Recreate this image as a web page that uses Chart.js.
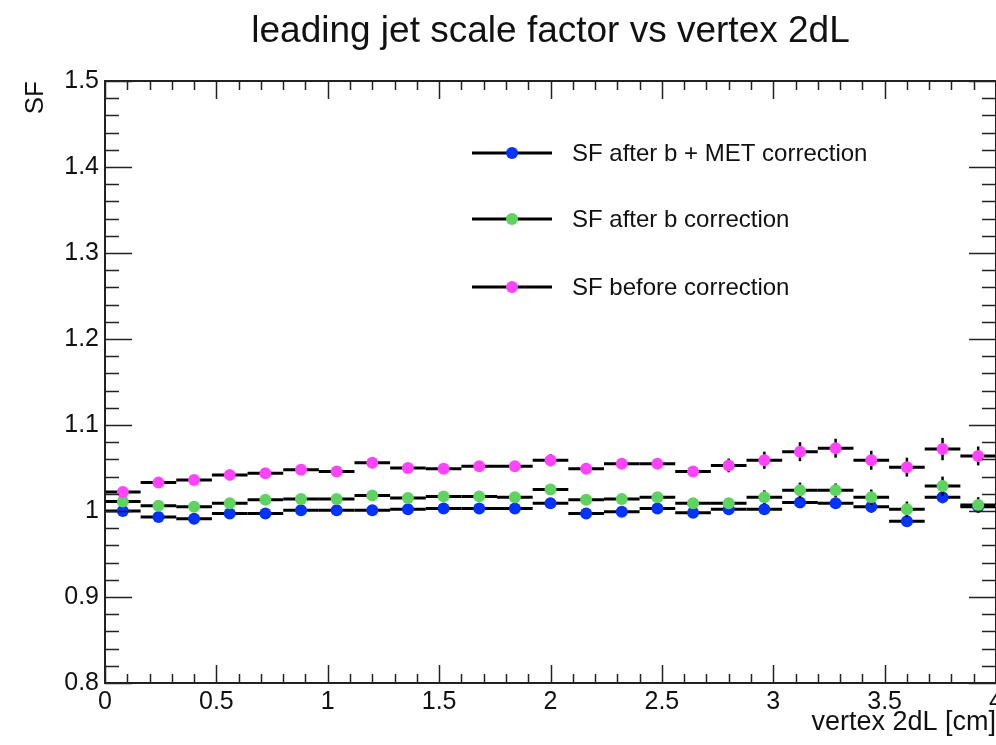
<!DOCTYPE html>
<html>
<head>
<meta charset="utf-8">
<title>leading jet scale factor vs vertex 2dL</title>
<script src="https://cdn.jsdelivr.net/npm/chart.js@4"></script>
<style>
  html, body { margin: 0; padding: 0; background: #fff; overflow: hidden; }
  #wrap { width: 996px; height: 745px; }
</style>
</head>
<body>
<div id="wrap"><canvas id="sf-chart" width="996" height="745"></canvas></div>
<script>
// bins of vertex 2dL [cm], 0.16 wide
const binCenters = [0.08, 0.24, 0.40, 0.56, 0.72, 0.88, 1.04, 1.20, 1.36, 1.52, 1.68, 1.84, 2.00,
                    2.16, 2.32, 2.48, 2.64, 2.80, 2.96, 3.12, 3.28, 3.44, 3.60, 3.76, 3.92];
const binHalfWidth = 0.08;

const sfBMet   = [1.000, 0.993, 0.991, 0.997, 0.997, 1.001, 1.001, 1.001, 1.002, 1.003, 1.003, 1.003, 1.009,
                  0.997, 0.999, 1.003, 0.998, 1.002, 1.002, 1.010, 1.009, 1.005, 0.988, 1.016, 1.005];
const sfB      = [1.011, 1.006, 1.005, 1.009, 1.013, 1.014, 1.014, 1.018, 1.015, 1.017, 1.017, 1.016, 1.025,
                  1.013, 1.014, 1.016, 1.009, 1.009, 1.016, 1.024, 1.024, 1.016, 1.002, 1.029, 1.007];
const sfBefore = [1.022, 1.033, 1.036, 1.042, 1.044, 1.048, 1.046, 1.056, 1.050, 1.049, 1.052, 1.052, 1.059,
                  1.049, 1.055, 1.055, 1.046, 1.053, 1.059, 1.069, 1.073, 1.059, 1.051, 1.072, 1.064];

const errBMet   = [0.003, 0.003, 0.003, 0.003, 0.004, 0.004, 0.004, 0.004, 0.004, 0.004, 0.004, 0.005, 0.005,
                   0.005, 0.005, 0.005, 0.005, 0.005, 0.006, 0.006, 0.006, 0.007, 0.006, 0.007, 0.006];
const errB      = [0.004, 0.004, 0.004, 0.004, 0.004, 0.004, 0.004, 0.005, 0.005, 0.005, 0.005, 0.005, 0.006,
                   0.005, 0.006, 0.006, 0.006, 0.006, 0.008, 0.009, 0.008, 0.009, 0.009, 0.011, 0.009];
const errBefore = [0.004, 0.004, 0.004, 0.004, 0.004, 0.004, 0.005, 0.005, 0.005, 0.005, 0.005, 0.005, 0.007,
                   0.006, 0.006, 0.006, 0.006, 0.008, 0.010, 0.011, 0.011, 0.011, 0.011, 0.013, 0.011];

const seriesNames  = ['SF after b + MET correction', 'SF after b correction', 'SF before correction'];
const seriesColors = ['#0033ff', '#5fd35f', '#ff44ff'];

const xTickLabels = [0, 0.5, 1, 1.5, 2, 2.5, 3, 3.5, 4];
const yTickLabels = [0.8, 0.9, 1, 1.1, 1.2, 1.3, 1.4, 1.5];

const FONT = "'Liberation Sans', Arial, Helvetica, sans-serif";
Chart.defaults.font.family = FONT;
Chart.defaults.color = '#111';

const MARK_R = 6;

function mkSet(i, vals, errs){
  return {
    label: seriesNames[i],
    data: binCenters.map((x, k) => ({ x, y: vals[k] })),
    errs,
    showLine: false,
    pointRadius: MARK_R,
    pointHoverRadius: MARK_R,
    pointBorderWidth: 0,
    pointBackgroundColor: seriesColors[i],
    pointBorderColor: seriesColors[i],
    order: 2 - i   // magenta on top, like ROOT draw order
  };
}

// ROOT-like error bars, drawn just before each graph's markers
const errorBars = {
  id: 'errorBars',
  beforeDatasetDraw(chart, args){
    const ds = chart.data.datasets[args.index];
    const xs = chart.scales.x, ys = chart.scales.y, ctx = chart.ctx;
    ctx.save();
    ctx.strokeStyle = '#000';
    ds.data.forEach((p, k) => {
      const py = ys.getPixelForValue(p.y);
      ctx.lineWidth = 3;
      ctx.beginPath();
      ctx.moveTo(xs.getPixelForValue(p.x - binHalfWidth), py);
      ctx.lineTo(xs.getPixelForValue(p.x + binHalfWidth), py);
      ctx.stroke();
      const e = ds.errs[k], px = xs.getPixelForValue(p.x);
      ctx.lineWidth = 2.5;
      ctx.beginPath();
      ctx.moveTo(px, ys.getPixelForValue(p.y - e));
      ctx.lineTo(px, ys.getPixelForValue(p.y + e));
      ctx.stroke();
    });
    ctx.restore();
  }
};

// frame, inner ticks, title and legend
const rootFrame = {
  id: 'rootFrame',
  afterDraw(chart){
    const { ctx, chartArea: a } = chart;
    const xs = chart.scales.x, ys = chart.scales.y;
    ctx.save();
    ctx.strokeStyle = '#222';
    ctx.lineWidth = 2;
    ctx.strokeRect(a.left, a.top, a.right - a.left, a.bottom - a.top);
    ctx.lineWidth = 1.5;
    ctx.beginPath();
    for (let i = 0; i <= 40; i++) {
      const px = Math.round(xs.getPixelForValue(i / 10)) + 0.5;
      const len = i % 5 === 0 ? 18 : 9;
      ctx.moveTo(px, a.bottom); ctx.lineTo(px, a.bottom - len);
      ctx.moveTo(px, a.top); ctx.lineTo(px, a.top + len);
    }
    for (let i = 0; i <= 35; i++) {
      const py = Math.round(ys.getPixelForValue(0.8 + i * 0.02)) + 0.5;
      const len = i % 5 === 0 ? 27 : 14;
      ctx.moveTo(a.left, py); ctx.lineTo(a.left + len, py);
      ctx.moveTo(a.right, py); ctx.lineTo(a.right - len, py);
    }
    ctx.stroke();

    // title
    ctx.fillStyle = '#111';
    ctx.font = '37px ' + FONT;
    ctx.textAlign = 'center';
    ctx.textBaseline = 'middle';
    ctx.fillText('leading jet scale factor vs vertex 2dL', (a.left + a.right) / 2, 32);

    // legend
    const rows = [153, 219, 287];
    ctx.font = '24px ' + FONT;
    ctx.textAlign = 'left';
    rows.forEach((y, i) => {
      ctx.strokeStyle = '#000';
      ctx.lineWidth = 3;
      ctx.beginPath(); ctx.moveTo(472, y); ctx.lineTo(552, y); ctx.stroke();
      ctx.fillStyle = seriesColors[i];
      ctx.beginPath(); ctx.arc(512, y, MARK_R, 0, Math.PI * 2); ctx.fill();
      ctx.fillStyle = '#111';
      ctx.fillText(seriesNames[i], 572, y + 1);
    });
    ctx.restore();
  }
};

new Chart(document.getElementById('sf-chart'), {
  type: 'scatter',
  data: { datasets: [mkSet(0, sfBMet, errBMet), mkSet(1, sfB, errB), mkSet(2, sfBefore, errBefore)] },
  options: {
    responsive: false,
    animation: false,
    devicePixelRatio: 1,
    layout: { autoPadding: false, padding: { top: 81, left: 0, right: -1, bottom: 0 } },
    plugins: { legend: { display: false }, tooltip: { enabled: false }, title: { display: false } },
    scales: {
      x: {
        type: 'linear', min: 0, max: 4,
        afterBuildTicks: s => { s.ticks = xTickLabels.map(v => ({ value: v })); },
        afterFit: s => { s.height = 62; s.paddingLeft = 0; s.paddingRight = 0; },
        grid: { display: false, drawTicks: false },
        border: { display: false },
        ticks: { padding: 4, maxRotation: 0, autoSkip: false, font: { size: 25 }, color: '#111',
                 callback: v => String(v) },
        title: { display: true, text: 'vertex 2dL [cm]', align: 'end', color: '#111',
                 font: { size: 27 }, padding: { top: 0, bottom: 6 } }
      },
      y: {
        type: 'linear', min: 0.8, max: 1.5,
        afterBuildTicks: s => { s.ticks = yTickLabels.map(v => ({ value: v })); },
        afterFit: s => { s.width = 105; s.paddingTop = 0; s.paddingBottom = 0; },
        grid: { display: false, drawTicks: false },
        border: { display: false },
        ticks: { padding: 6, autoSkip: false, font: { size: 25 }, color: '#111',
                 callback: v => String(v) },
        title: { display: true, text: 'SF', align: 'end', color: '#111',
                 font: { size: 26 }, padding: { top: 20, bottom: 0 } }
      }
    }
  },
  plugins: [errorBars, rootFrame]
});
</script>
</body>
</html>
